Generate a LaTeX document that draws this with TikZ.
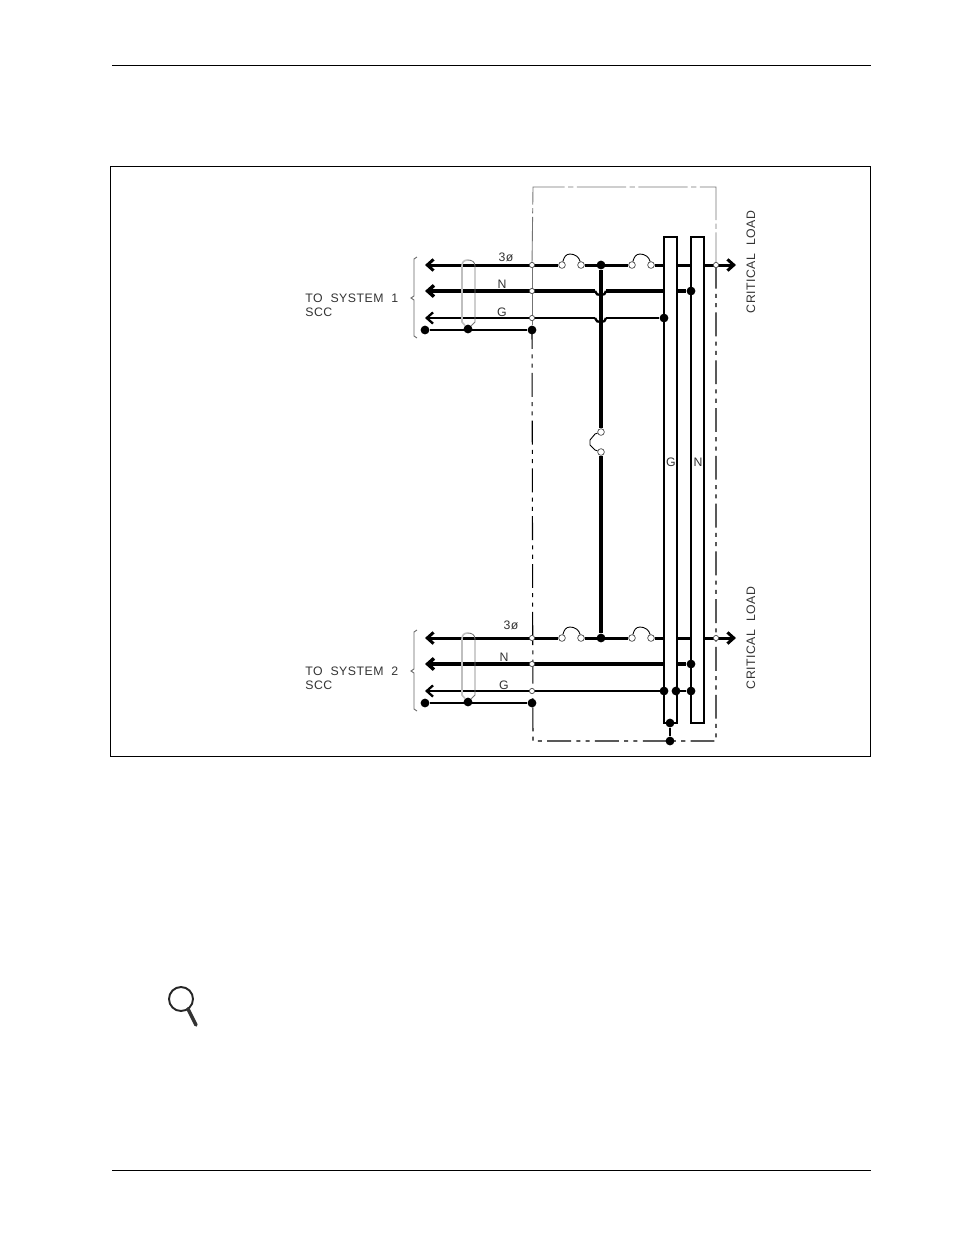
\documentclass[tikz,border=0pt]{standalone}
\usepackage{fontspec}
\newfontfamily\cadfont[LetterSpace=4]{Liberation Sans}
\usetikzlibrary{arrows.meta,backgrounds}
\tikzset{
	soliddot/.style={circle, fill=black, inner sep=0pt, minimum size=5pt},
	opendot/.style={circle, draw=black!70, line width=0.4pt, fill=white, inner sep=0pt, minimum size=3pt},
	swdot/.style={circle, draw=black!70, line width=0.4pt, fill=white, inner sep=0pt, minimum size=3.8pt},
	phaseline/.style={line width=1.7pt, >={Straight Barb[length=3.6pt,width=6.4pt]}},
	neutline/.style={line width=2pt, >={Straight Barb[length=3.6pt,width=6.4pt]}},
	gndline/.style={line width=1.3pt, >={Straight Barb[length=3.6pt,width=6.4pt]}},
	thinline/.style={line width=0.5pt},
	topline/.style={line width=0.5pt, black!55, dash pattern=on 28pt off 2pt on 3pt off 2pt, dash phase=0.6pt},
	boxline/.style={line width=0.6pt, dash pattern=on 13.6pt off 3pt on 2.3pt off 3pt on 2.3pt off 3pt, dash phase=2.8pt},
	lbl/.style={inner sep=0pt, font=\cadfont\fontsize{7}{8}\selectfont, text=black!80}
}
\begin{document}
\begin{tikzpicture}[x=0.02cm, y=-0.02cm]
	\useasboundingbox (0,0) rectangle (954,1235);
	\draw[line width=0.45pt] (112,65) -- (871,65);
	\draw[line width=0.45pt] (112,1170) -- (871,1170);
	\draw[line width=0.45pt] (110,166) rectangle (870,756);
	% junctions
	\foreach \n/\x/\y in {j1/601/265, j2/601/638, na1/691/291, na2/691/664, ga1/664/318, ga2/664/691,
			gb1/676/691, gb2/691/691, sa1/425/330, sa2/468/329, sa3/532/330, sb1/425/703, sb2/468/702, sb3/532/703,
			bar1/670/723, bar2/670/741}
		\node[soliddot] (\n) at (\x,\y) {};
	\foreach \n/\x/\y in {pa/532/265, pb/532/638, qa/532/291, qb/532/664, ra/532/318, rb/532/691, ea/716/265, eb/716/638}
		\node[opendot] (\n) at (\x,\y) {};
	\foreach \n/\x/\y in {ta1/562/265, ta2/581/265, ta3/632/265, ta4/651/265, tb1/562/638, tb2/581/638, tb3/632/638, tb4/651/638, tc1/601/432, tc2/601/452}
		\node[swdot] (\n) at (\x,\y) {};
	\foreach \n/\x/\y in {fa1/425/265, fa2/425/291, fa3/425/318, fa4/736/265, fb1/425/638, fb2/425/664, fb3/425/691, fb4/736/638,
			boxa/533/187, boxb/716/187, boxc/533/741, boxd/716/741, ha/595/291, hb/606/291, hc/595/318, hd/606/318}
		\coordinate (\n) at (\x,\y);
	% wiring goes under the bars
	\begin{scope}[on background layer]
		\draw[topline] (pa.center) -- (boxa) -- (boxb) -- (ea.center);
		\draw[thinline, black!55] (pa) -- (sa3);
		\draw[boxline] (sa3.center) -- (boxc) -- (bar2.center) -- (boxd) -- (ea.center);
		\draw[phaseline, <-] (fa1) -- (ta1);
		\draw[phaseline] (ta2) -- (ta3);
		\draw[phaseline, ->] (ta4) -- (fa4);
		\draw[phaseline, <-] (fb1) -- (tb1);
		\draw[phaseline] (tb2) -- (tb3);
		\draw[phaseline, ->] (tb4) -- (fb4);
		\draw[neutline, <-] (fa2) -- (ha);
		\draw[neutline] (hb) -- (na1);
		\draw[neutline, <-] (fb2) -- (na2);
		\draw[gndline, <-] (fa3) -- (hc);
		\draw[gndline] (hd) -- (ga1);
		\draw[gndline, <-] (fb3) -- (gb2);
		\draw[gndline] (ha) to[bend right=50] (601,295);
		\draw[gndline] (601,295) to[bend right=50] (hb);
		\draw[gndline] (hc) to[bend right=50] (601,322);
		\draw[gndline] (601,322) to[bend right=50] (hd);
		\draw[line width=1.5pt] (sa1) -- (sa3);
		\draw[line width=1.5pt] (sb1) -- (sb3);
		\draw[line width=2pt] (j1) -- (tc1);
		\draw[line width=2pt] (tc2) -- (j2);
		\draw[line width=1.5pt] (bar1) -- (bar2);
		\draw[line width=0.6pt, fill=white] (664,237) rectangle (677,723);
		\draw[line width=0.6pt, fill=white] (691,237) rectangle (704,723);
	\end{scope}
	% switches
	\draw[thinline] (ta1) .. controls (564,257) and (566,254) .. (570,254) .. controls (575,254) and (579,257) .. (ta2);
	\draw[thinline] (ta3) .. controls (634,257) and (636,254) .. (640,254) .. controls (645,254) and (649,257) .. (ta4);
	\draw[thinline] (tb1) .. controls (564,630) and (566,627) .. (570,627) .. controls (575,627) and (579,630) .. (tb2);
	\draw[thinline] (tb3) .. controls (634,630) and (636,627) .. (640,627) .. controls (645,627) and (649,630) .. (tb4);
	\draw[thinline] (tc1) -- (595,434) -- (590,440) -- (590,445) -- (595,450) -- (tc2);
	% cables
	\draw[line width=0.9pt, black!25] (468,260) .. controls (464,260) and (462,262) .. (462,266) -- (462,322) -- (sa2);
	\draw[thinline, black!55] (468,260) .. controls (472,260) and (475,262) .. (475,266) -- (475,322) -- (sa2);
	\draw[line width=0.9pt, black!25] (468,633) .. controls (464,633) and (462,635) .. (462,639) -- (462,695) -- (sb2);
	\draw[thinline, black!55] (468,633) .. controls (472,633) and (475,635) .. (475,639) -- (475,695) -- (sb2);
	% braces
	\draw[thinline, black!60] (417,257) -- (414,259) -- (414,296) -- (411,298) -- (414,300) -- (414,336) -- (417,338);
	\draw[thinline, black!60] (417,630) -- (414,632) -- (414,669) -- (411,671) -- (414,673) -- (414,709) -- (417,711);
	% labels
	\node[lbl, anchor=west] (sysa) at (305,298) {TO\ \ SYSTEM\ \ 1};
	\node[lbl, anchor=west] (scca) at (305,312) {SCC};
	\node[lbl, anchor=west] (sysb) at (305,671) {TO\ \ SYSTEM\ \ 2};
	\node[lbl, anchor=west] (sccb) at (305,685) {SCC};
	\node[lbl] (pha) at (506,257) {3ø};
	\node[lbl] (nla) at (502,284) {N};
	\node[lbl] (gla) at (502,312) {G};
	\node[lbl] (phb) at (511,625) {3ø};
	\node[lbl] (nlb) at (504,657) {N};
	\node[lbl] (glb) at (504,685) {G};
	\node[lbl] (barg) at (671,462) {G};
	\node[lbl] (barn) at (698,462) {N};
	\node[lbl, rotate=90] (loada) at (751,262) {CRITICAL\ \ LOAD};
	\node[lbl, rotate=90] (loadb) at (751,638) {CRITICAL\ \ LOAD};
	% magnifier
	\draw[line width=1.1pt, black!85] (181,999) circle (12);
	\draw[line width=2pt, line cap=round, black!80] (188,1009) -- (196,1025);
\end{tikzpicture}
\end{document}
